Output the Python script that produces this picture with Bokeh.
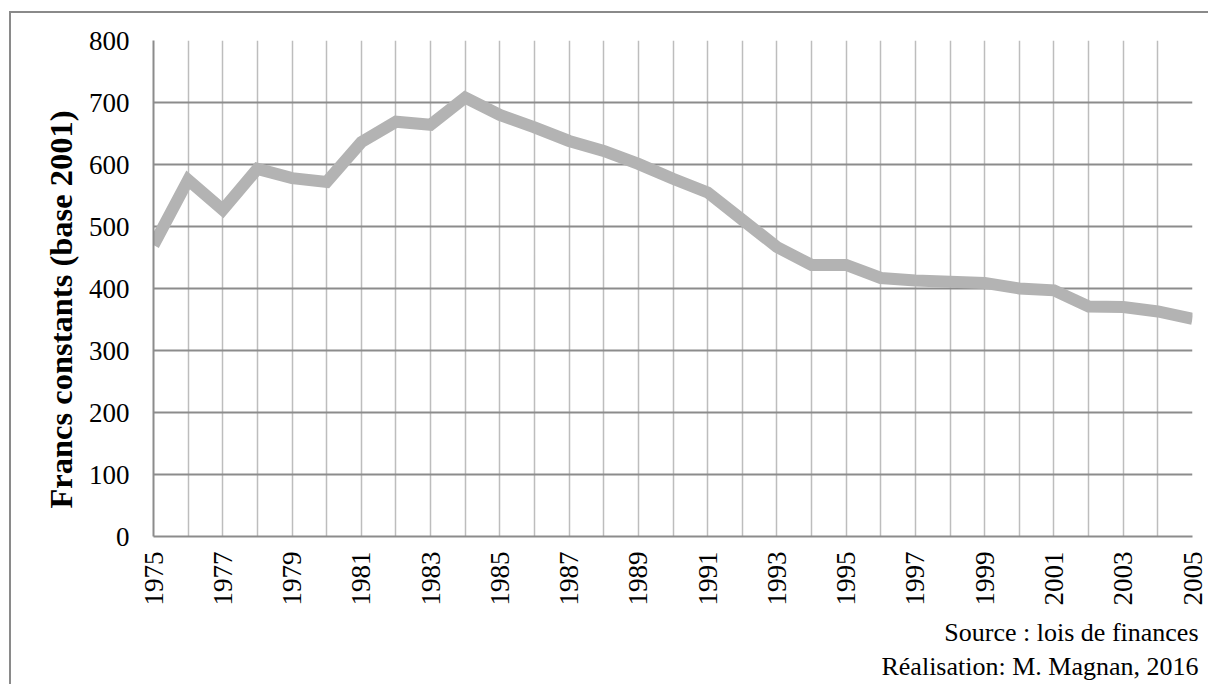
import math
from bokeh.plotting import figure
from bokeh.models import FixedTicker, Range1d, Title
from bokeh.embed import file_html
from bokeh.resources import INLINE

years = list(range(1975, 2006))
values = [470, 575, 527, 593, 578, 572, 636, 669, 664, 708,
          680, 660, 638, 622, 601, 577, 555, 511, 467, 438,
          438, 417, 413, 411, 409, 400, 397, 371, 370, 363, 351]
y_ticks = [0, 100, 200, 300, 400, 500, 600, 700, 800]
x_label_years = list(range(1975, 2006, 2))
y_title = "Francs constants (base 2001)"
source_text = "Source : lois de finances"
credit_text = "Réalisation: M. Magnan, 2016"

FONT = "Liberation Serif"

p = figure(width=1199, height=673, output_backend="svg", toolbar_location=None,
           x_range=Range1d(1975, 2005), y_range=Range1d(0, 800),
           min_border_left=144, min_border_right=16, min_border_top=29,
           min_border_bottom=148)
p.styles = {"margin-top": "11px", "margin-left": "9px",
            "box-shadow": "inset 2px 2px 0 0 #8a8a8a"}
p.border_fill_color = None
p.background_fill_color = "white"
p.outline_line_color = None

p.line(years, values, line_width=12, line_color="#b3b3b3", line_join="miter")

# axes
p.xaxis.ticker = FixedTicker(ticks=x_label_years)
p.xaxis.major_label_orientation = math.pi / 2
p.xaxis.major_label_text_font = FONT
p.xaxis.major_label_text_font_size = "27px"
p.xaxis.major_label_text_color = "black"
p.xaxis.major_label_standoff = 15
p.xaxis.major_tick_out = 0
p.xaxis.major_tick_in = 0
p.xaxis.minor_tick_out = 0
p.xaxis.minor_tick_in = 0
p.xaxis.axis_line_color = "#8c8c8c"
p.xaxis.axis_line_width = 2

p.yaxis.ticker = FixedTicker(ticks=y_ticks)
p.yaxis.major_label_text_font = FONT
p.yaxis.major_label_text_font_size = "27px"
p.yaxis.major_label_text_color = "black"
p.yaxis.major_label_standoff = 24
p.yaxis.major_tick_out = 0
p.yaxis.major_tick_in = 0
p.yaxis.minor_tick_out = 0
p.yaxis.minor_tick_in = 0
p.yaxis.axis_line_color = "#8c8c8c"
p.yaxis.axis_line_width = 2

p.add_layout(Title(text=y_title, align="left", offset=28, standoff=14,
                   text_font=FONT, text_font_size="32.5px",
                   text_font_style="bold", text_color="black"), "left")

# grids
p.xgrid.ticker = FixedTicker(ticks=years)
p.xgrid.grid_line_color = "#bdbdbd"
p.xgrid.grid_line_width = 1.5
p.ygrid.ticker = FixedTicker(ticks=y_ticks)
p.ygrid.grid_line_color = "#8c8c8c"
p.ygrid.grid_line_width = 2

for txt, so in [(source_text, 14), (credit_text, -7)]:
    p.add_layout(Title(text=txt, align="right", offset=-6, standoff=so,
                       text_font=FONT, text_font_size="26px",
                       text_font_style="normal", text_color="black"), "below")

open("out.html", "w").write(file_html(p, INLINE))
